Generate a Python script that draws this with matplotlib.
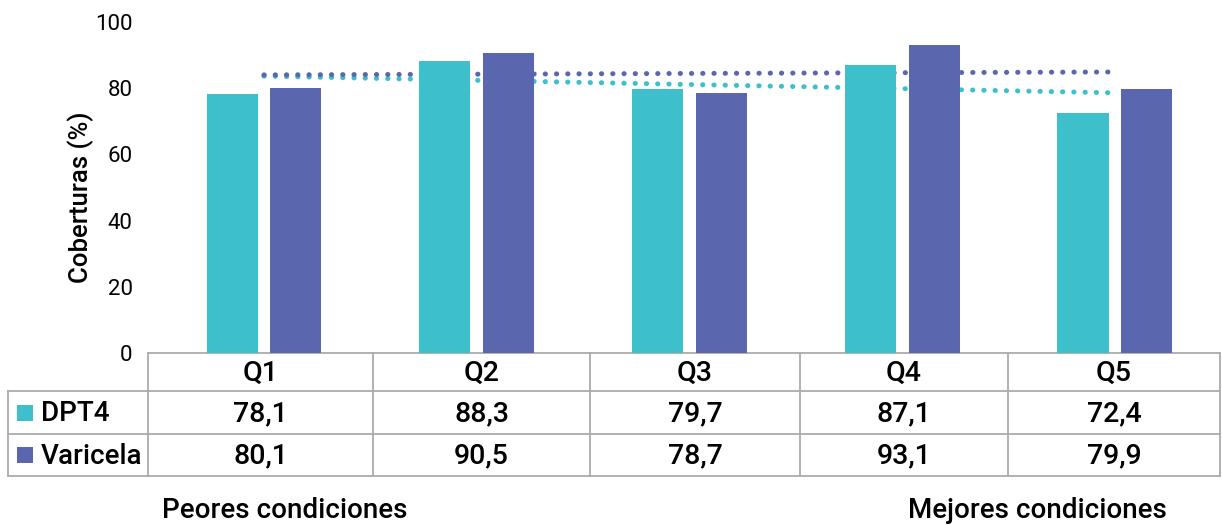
import numpy as np
import matplotlib
matplotlib.use("Agg")
import matplotlib.pyplot as plt
from matplotlib.patches import Rectangle

plt.rcParams['font.family'] = ['Roboto', 'DejaVu Sans']

quintiles = ['Q1', 'Q2', 'Q3', 'Q4', 'Q5']
series = ['DPT4', 'Varicela']
dpt4 = [78.1, 88.3, 79.7, 87.1, 72.4]
varicela = [80.1, 90.5, 78.7, 93.1, 79.9]
colors = ['#3DC0CB', '#5A67AE']

W, H = 1222, 525
fig = plt.figure(figsize=(W / 100, H / 100), dpi=100)
ax = fig.add_axes([148 / W, (H - 353) / H, 1072 / W, 331 / H])


def px(x):
    return (x - 148) / 1072


def py(y):
    return (353 - y) / 331


x = np.arange(len(quintiles))
width = 0.24
values = [dpt4, varicela]

for k, (vals, c) in enumerate(zip(values, colors)):
    ax.bar(x + (k - 0.5) * 0.3, vals, width, color=c, zorder=3)
    # linear trend behind the bars
    m, b = np.polyfit(x + 1, vals, 1)
    ax.plot(x, m * (x + 1) + b, color=c, lw=3.6, linestyle=(0, (0.05, 2.2)),
            dash_capstyle='round', zorder=2)

ax.set_xlim(-0.545, 4.494)
ax.set_ylim(0, 100)
ax.set_yticks(range(0, 101, 20))
ax.set_xticks([])
ax.tick_params(axis='y', length=0, pad=11, labelsize=16)
for s in ax.spines.values():
    s.set_visible(False)
ax.set_ylabel('Coberturas (%)', fontsize=18.5, fontweight='medium')
ax.yaxis.set_label_coords(px(94), py(197))

# data table under the plot
gray = '#ABABAB'
lw = 1.3
cols = [148, 373, 590, 800, 1008, 1220]
rows = [353, 391, 434, 476]
kw = dict(transform=ax.transAxes, clip_on=False, color=gray, lw=lw)
ax.plot([px(148), px(1220)], [py(353)] * 2, **kw)
for yy in rows[1:]:
    ax.plot([px(8), px(1220)], [py(yy)] * 2, **kw)
for xx in cols:
    ax.plot([px(xx)] * 2, [py(353), py(476)], **kw)
ax.plot([px(8)] * 2, [py(391), py(476)], **kw)

tkw = dict(transform=ax.transAxes, ha='center', va='center', fontsize=20.5,
           fontweight='medium')
for i, q in enumerate(quintiles):
    xc = px((cols[i] + cols[i + 1]) / 2)
    ax.text(xc, py(373), q, **tkw)
    for j, vals in enumerate(values):
        ax.text(xc, py((rows[j + 1] + rows[j + 2]) / 2 + 1),
                f'{vals[i]:.1f}'.replace('.', ','), **tkw)

for j, (name, c) in enumerate(zip(series, colors)):
    yc = (rows[j + 1] + rows[j + 2]) / 2
    ax.add_patch(Rectangle((px(17), py(yc + 8)), 16 / 1072, 16 / 331,
                           transform=ax.transAxes, clip_on=False,
                           facecolor=c, edgecolor='none'))
    ax.text(px(41), py(yc + 1), name, transform=ax.transAxes, ha='left',
            va='center', fontsize=20, fontweight='medium')

ax.text(px(285), py(510), 'Peores condiciones', transform=ax.transAxes,
        ha='center', va='center', fontsize=20, fontweight='medium')
ax.text(px(1037), py(510), 'Mejores condiciones', transform=ax.transAxes,
        ha='center', va='center', fontsize=20, fontweight='medium')

fig.savefig('out.png', dpi=100)
